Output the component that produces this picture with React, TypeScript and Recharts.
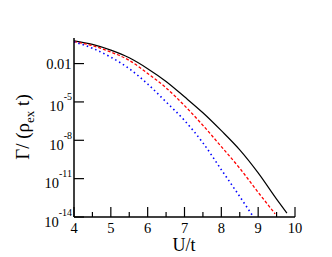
import React from 'react';
import { LineChart, Line, XAxis, YAxis } from 'recharts';

// U/t values and log10(Γ/(ρ_ex t)) for each curve
const uBlack = [4, 4.5, 5, 5.5, 6, 6.5, 7, 7.5, 8, 8.5, 9, 9.5, 9.78];
const logBlack = [-0.22, -0.5, -0.95, -1.55, -2.4, -3.4, -4.6, -5.85, -7.25, -8.75, -10.55, -12.6, -13.7];

const uRed = [4, 4.5, 5, 5.5, 6, 6.5, 7, 7.5, 8, 8.5, 9, 9.46];
const logRed = [-0.28, -0.6, -1.1, -1.75, -2.77, -3.9, -5.29, -6.83, -8.5, -10.19, -12.07, -13.75];

const uBlue = [4, 4.5, 5, 5.5, 6, 6.5, 7, 7.5, 8, 8.5, 8.85];
const logBlue = [-0.3, -0.8, -1.5, -2.4, -3.6, -5.0, -6.45, -8.2, -10.3, -12.4, -13.9];

const xTicks = [4, 4.5, 5, 5.5, 6, 6.5, 7, 7.5, 8, 8.5, 9, 9.5, 10];
const yTicks = [-14, -11, -8, -5, -2];

const toRows = (us: number[], ls: number[]) => us.map((u, i) => ({ u, v: ls[i] }));
const blackData = toRows(uBlack, logBlack);
const redData = toRows(uRed, logRed);
const blueData = toRows(uBlue, logBlue);

const FONT = "'Liberation Serif', 'DejaVu Serif', serif";
const txt = { fontFamily: FONT };

const BottomTick = (props: any) => {
  const { x, y, payload } = props;
  const major = Number.isInteger(payload.value);
  return (
    <g>
      <line x1={x} y1={y} x2={x} y2={y - (major ? 10 : 5)} stroke="#000" strokeWidth={1.2} />
      {major && (
        <text x={x} y={y + 16} textAnchor="middle" fontSize={14.5} style={txt} fill="#000">
          {payload.value}
        </text>
      )}
    </g>
  );
};

const TopTick = (props: any) => {
  const { x, y, payload } = props;
  const major = Number.isInteger(payload.value);
  return <line x1={x} y1={y} x2={x} y2={y + (major ? 10 : 5)} stroke="#000" strokeWidth={1.2} />;
};

const LeftTick = (props: any) => {
  const { x, y, payload } = props;
  const v = payload.value;
  return (
    <g>
      <line x1={x} y1={y} x2={x + 10} y2={y} stroke="#000" strokeWidth={1.2} />
      {v === -2 ? (
        <text x={x - 2.5} y={y + 5} textAnchor="end" fontSize={14.5} style={txt} fill="#000">
          0.01
        </text>
      ) : (
        <text x={x - 2} y={y + 9.5} textAnchor="end" fontSize={14.5} style={txt} fill="#000">
          <tspan>10</tspan>
          <tspan dy={-11} fontSize={10}>{`-${Math.abs(v)}`}</tspan>
        </text>
      )}
    </g>
  );
};

const RightTick = (props: any) => {
  const { x, y } = props;
  return <line x1={x} y1={y} x2={x - 10} y2={y} stroke="#000" strokeWidth={1.2} />;
};

export default function App() {
  return (
    <div style={{ position: 'absolute', left: 0, top: 0, width: 332, height: 257, background: '#fff' }}>
      <LineChart width={332} height={257} margin={{ top: 38, right: 37, left: 0, bottom: 0 }}>
        <XAxis
          xAxisId="b"
          dataKey="u"
          type="number"
          domain={[4, 10]}
          ticks={xTicks}
          interval={0}
          tickSize={0}
          tickMargin={0}
          height={40}
          allowDataOverflow
          axisLine={{ stroke: '#000', strokeWidth: 1.5 }}
          tickLine={false}
          tick={<BottomTick />}
        />
        <XAxis
          xAxisId="t"
          orientation="top"
          dataKey="u"
          type="number"
          domain={[4, 10]}
          ticks={xTicks}
          interval={0}
          tickSize={0}
          tickMargin={0}
          height={0}
          allowDataOverflow
          axisLine={{ stroke: '#000', strokeWidth: 1.5 }}
          tickLine={false}
          tick={<TopTick />}
        />
        <YAxis
          yAxisId="l"
          type="number"
          domain={[-14, 0]}
          ticks={yTicks}
          interval={0}
          tickSize={0}
          tickMargin={0}
          width={74}
          allowDataOverflow
          axisLine={{ stroke: '#000', strokeWidth: 1.5 }}
          tickLine={false}
          tick={<LeftTick />}
        />
        <YAxis
          yAxisId="r"
          orientation="right"
          type="number"
          domain={[-14, 0]}
          ticks={yTicks}
          interval={0}
          tickSize={0}
          tickMargin={0}
          width={0}
          allowDataOverflow
          axisLine={{ stroke: '#000', strokeWidth: 1.5 }}
          tickLine={false}
          tick={<RightTick />}
        />
        <Line
          xAxisId="b"
          yAxisId="l"
          data={blackData}
          dataKey="v"
          type="monotone"
          stroke="#000"
          strokeWidth={1.2}
          dot={false}
          isAnimationActive={false}
        />
        <Line
          xAxisId="b"
          yAxisId="l"
          data={redData}
          dataKey="v"
          type="monotone"
          stroke="#ff0000"
          strokeWidth={1.3}
          strokeDasharray="3 2"
          dot={false}
          isAnimationActive={false}
        />
        <Line
          xAxisId="b"
          yAxisId="l"
          data={blueData}
          dataKey="v"
          type="monotone"
          stroke="#0000ff"
          strokeWidth={1.6}
          strokeDasharray="1.5 3"
          dot={false}
          isAnimationActive={false}
        />
      </LineChart>
      <svg
        width={332}
        height={257}
        style={{ position: 'absolute', left: 0, top: 0, pointerEvents: 'none' }}
      >
        <text
          x={29}
          y={127}
          transform="rotate(-90 29 127)"
          textAnchor="middle"
          fontSize={19}
          style={txt}
          fill="#000"
        >
          <tspan>Γ/ (ρ</tspan>
          <tspan dy={5} fontSize={13}>ex</tspan>
          <tspan dy={-5}> t)</tspan>
        </text>
        <text x={184} y={251} textAnchor="middle" fontSize={18} style={txt} fill="#000">
          U/t
        </text>
      </svg>
    </div>
  );
}
